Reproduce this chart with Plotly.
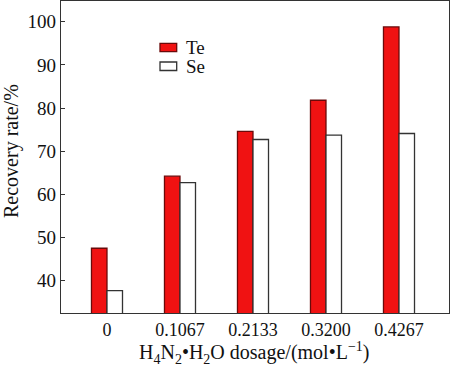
import plotly.graph_objects as go

categories = ["0", "0.1067", "0.2133", "0.3200", "0.4267"]
te_values = [47.5, 64.2, 74.6, 81.8, 98.8]
se_values = [37.7, 62.7, 72.7, 73.7, 74.1]
y_ticks = [40, 50, 60, 70, 80, 90, 100]

FONT = "Liberation Serif, Times New Roman, serif"
W, H = 450, 365
L, R, T, B = 61, 1, 1, 52
PW, PH = W - L - R, H - T - B

def px(x):
    return (x - L) / PW

def py(y):
    return (H - B - y) / PH

fig = go.Figure()
fig.add_trace(go.Bar(x=categories, y=te_values, name="Te",
                     marker=dict(color="#f01212", line=dict(color="#6a0a0a", width=1.3)),
                     showlegend=False))
fig.add_trace(go.Bar(x=categories, y=se_values, name="Se",
                     marker=dict(color="#ffffff", line=dict(color="#333333", width=1.3)),
                     showlegend=False))

fig.update_layout(
    width=W, height=H,
    margin=dict(l=L, r=R, t=T, b=B, autoexpand=False),
    showlegend=False,
    paper_bgcolor="white", plot_bgcolor="white",
    barmode="group", bargap=0.575, bargroupgap=0,
    font=dict(family=FONT, size=18, color="#111111"),
    xaxis=dict(type="category", range=[-0.63, 4.685], showline=True, linecolor="#333333",
               linewidth=1.3, mirror=True, ticks="", showgrid=False, zeroline=False,
               automargin=False,
               tickfont=dict(family=FONT, size=18), ticklabelstandoff=0),
    yaxis=dict(range=[32.5, 104.8], tickvals=y_ticks, showline=True, linecolor="#333333",
               linewidth=1.3, mirror=True, ticks="inside", ticklen=4, tickcolor="#333333",
               showgrid=False, zeroline=False, automargin=False,
               tickfont=dict(family=FONT, size=19)),
)

# custom legend
legend_items = [("Te", "#f01212", "#6a0a0a", 43.3, 51.7, 47.5),
                ("Se", "#ffffff", "#333333", 62.0, 70.5, 66.2)]
for name, fill, edge, y0, y1, yc in legend_items:
    fig.add_shape(type="rect", xref="paper", yref="paper",
                  x0=px(160), x1=px(176.7), y0=py(y1), y1=py(y0),
                  fillcolor=fill, line=dict(color=edge, width=1.3))
    fig.add_annotation(text=name, xref="paper", yref="paper", x=px(184), y=py(yc),
                       xanchor="left", yanchor="middle", showarrow=False,
                       font=dict(family=FONT, size=19))

fig.add_annotation(text="Recovery rate/%", xref="paper", yref="paper",
                   x=px(11), y=py(151), textangle=-90, xanchor="center", yanchor="middle",
                   showarrow=False, font=dict(family=FONT, size=20))
fig.add_annotation(text="H<sub>4</sub>N<sub>2</sub>•H<sub>2</sub>O dosage/(mol•L<sup>−1</sup>)",
                   xref="paper", yref="paper", x=px(254), y=py(353),
                   xanchor="center", yanchor="middle", showarrow=False,
                   font=dict(family=FONT, size=20))

fig.write_html("out.html", config={"displayModeBar": False},
               post_script="document.body.style.margin='0';document.body.style.padding='0';"
                           "document.body.style.overflow='hidden';")
